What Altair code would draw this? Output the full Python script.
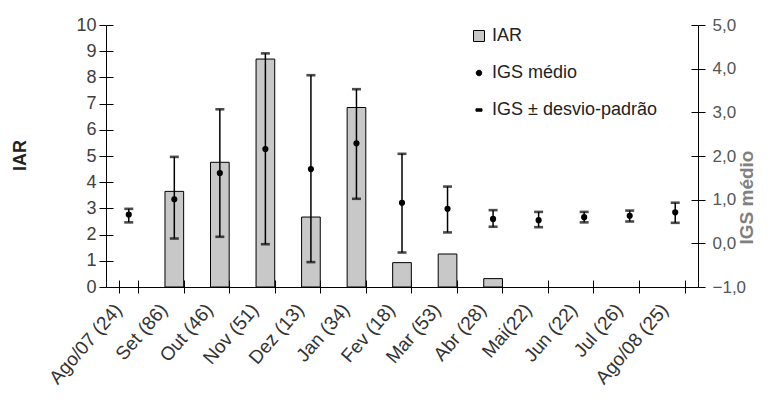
import altair as alt
import pandas as pd

months = ["Ago/07 (24)", "Set (86)", "Out (46)", "Nov (51)", "Dez (13)", "Jan (34)",
          "Fev (18)", "Mar (53)", "Abr (28)", "Mai(22)", "Jun (22)", "Jul (26)", "Ago/08 (25)"]
iar = [0, 3.65, 4.76, 8.70, 2.67, 6.85, 0.93, 1.26, 0.32, 0, 0, 0, 0]
igs = [0.66, 1.01, 1.61, 2.16, 1.70, 2.29, 0.93, 0.79, 0.56, 0.53, 0.60, 0.63, 0.71]
igs_hi = [0.79, 1.98, 3.07, 4.35, 3.85, 3.53, 2.05, 1.30, 0.76, 0.72, 0.72, 0.75, 0.93]
igs_lo = [0.48, 0.11, 0.15, -0.02, -0.43, 1.02, -0.21, 0.25, 0.38, 0.37, 0.48, 0.50, 0.47]

legend_keys = ["IAR", "IGS médio", "IGS ± desvio-padrão"]
iar_ticks = list(range(0, 11))
igs_ticks = [-1, 0, 1, 2, 3, 4, 5]

df = pd.DataFrame({"m": months, "iar": iar, "igs": igs, "hi": igs_hi, "lo": igs_lo})
leg = pd.DataFrame({"k": legend_keys})

FONT = "Liberation Sans"
INNER = dict(grid=True, gridDash=[7, 2000], gridColor="black", gridWidth=1, gridOpacity=1)
INNER_X = dict(grid=True, gridDash=[0, 255, 7, 2000], gridColor="black", gridWidth=1, gridOpacity=1)

xscale = alt.Scale(domain=months, paddingInner=0.59, paddingOuter=0.295)
xax = alt.Axis(title=None, labelAngle=311, labelFontSize=19, labelColor="#333333",
               labelFont=FONT, tickBand="extent", tickSize=6, tickColor="black",
               domainColor="black", labelPadding=13, labelOffset=-11, **INNER_X)
x = alt.X("m:N", sort=months, scale=xscale, axis=xax)

yl = alt.Y("iar:Q", scale=alt.Scale(domain=[0, 10], nice=False, zero=False),
           axis=alt.Axis(orient="left", values=iar_ticks, title="IAR", titleFont=FONT,
                         titleFontSize=18, titleFontWeight="bold", titleColor="#222222",
                         titleAngle=270, titleX=-86, titleY=130, titleAlign="center",
                         titleBaseline="middle", labelFont=FONT, labelFontSize=18,
                         labelColor="#404040", tickSize=7, tickColor="black",
                         domainColor="black", labelPadding=3, **INNER))

bars = alt.Chart(df).transform_filter("datum.iar > 0").mark_bar(
    fill="#c8c8c8", stroke="black", strokeWidth=1).encode(x=x, y=yl)

yr_scale = alt.Scale(domain=[-1, 5], nice=False, zero=False)
yr_axis = alt.Axis(orient="right", values=igs_ticks, title="IGS médio", titleFont=FONT,
                   titleFontSize=19, titleFontWeight="bold", titleColor="#808080",
                   titleAngle=270, titleX=48, titleY=172, titleAlign="center",
                   titleBaseline="middle", labelFont=FONT, labelFontSize=17,
                   labelColor="#555555", tickSize=7, tickColor="black",
                   domainColor="black", labelPadding=7,
                   labelExpr="replace(format(datum.value, '.1f'), '.', ',')", **INNER)

rules = alt.Chart(df).mark_rule(color="black", strokeWidth=1.5).encode(
    x=x, y=alt.Y("hi:Q", scale=yr_scale, axis=yr_axis), y2="lo:Q")
cap_hi = alt.Chart(df).mark_tick(color="black", orient="horizontal", size=9, thickness=2.6).encode(
    x=x, y=alt.Y("hi:Q", scale=yr_scale, axis=yr_axis))
cap_lo = alt.Chart(df).mark_tick(color="black", orient="horizontal", size=9, thickness=2.6).encode(
    x=x, y=alt.Y("lo:Q", scale=yr_scale, axis=yr_axis))
pts = alt.Chart(df).mark_point(filled=True, color="black", size=38, opacity=1).encode(
    x=x, y=alt.Y("igs:Q", scale=yr_scale, axis=yr_axis))

circle_path = "M-0.5,0A0.5,0.5,0,1,1,0.5,0A0.5,0.5,0,1,1,-0.5,0Z"
dash_path = "M-0.55,-0.22H0.55V0.22H-0.55Z"
legend_layer = alt.Chart(leg).mark_point(filled=True, opacity=0, strokeWidth=1).encode(
    x=alt.value(0), y=alt.value(0),
    shape=alt.Shape("k:N", scale=alt.Scale(domain=legend_keys, range=["square", circle_path, dash_path]),
                    legend=alt.Legend(title=None, orient="none", legendX=364, legendY=2,
                                      symbolSize=121, symbolOpacity=1, symbolStrokeWidth=1,
                                      labelFont=FONT, labelFontSize=18, labelLimit=400,
                                      labelColor="#222222", rowPadding=19, labelOffset=4,
                                      padding=0)),
    fill=alt.Fill("k:N", scale=alt.Scale(domain=legend_keys, range=["#c8c8c8", "black", "black"])),
    stroke=alt.Stroke("k:N", scale=alt.Scale(domain=legend_keys, range=["black", "black", "black"])),
)

right = alt.layer(rules, cap_hi, cap_lo, pts)

chart = alt.layer(bars, right, legend_layer).resolve_scale(y="independent").properties(
    width=592, height=262,
    autosize=alt.AutoSizeParams(type="none"),
    padding={"left": 98, "top": 17, "right": 68, "bottom": 108},
).configure_view(stroke=None).configure_axis(domainWidth=1, tickWidth=1)

chart.save("out.html", embed_options={"renderer": "svg", "actions": False})
